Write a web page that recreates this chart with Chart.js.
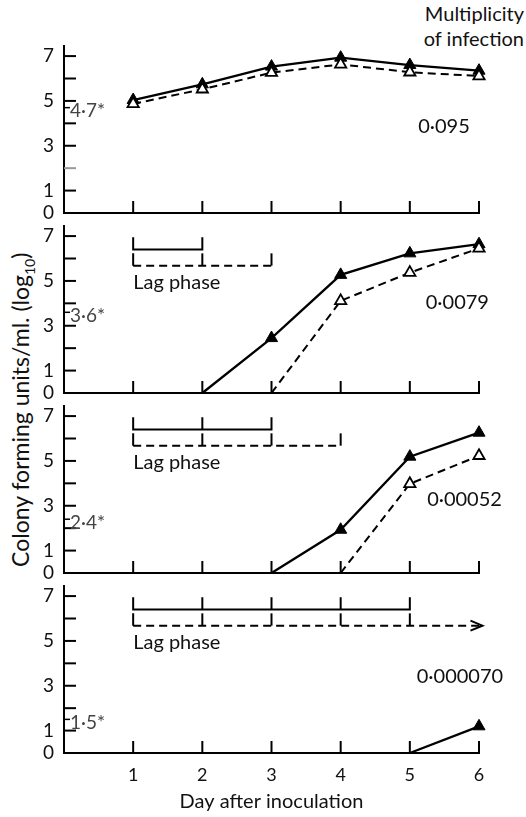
<!DOCTYPE html>
<html>
<head>
<meta charset="utf-8">
<script src="https://cdn.jsdelivr.net/npm/chart.js@4"></script>
<style>
  body { margin: 0; background: #fff; width: 526px; height: 817px; position: relative; overflow: hidden; font-family: Lato, sans-serif; color: #111; }
  canvas { position: absolute; left: 0; }
  #hdr { position: absolute; right: 2px; top: 1px; text-align: right; font-size: 20px; line-height: 25px; }
  #ytitle { position: absolute; width: 380px; left: -168px; top: 394px; text-align: center; font-size: 23px; transform: rotate(-90deg); white-space: nowrap; }
  #ytitle sub { font-size: 14px; }
</style>
</head>
<body>
<div id="hdr">Multiplicity<br>of infection</div>
<div id="ytitle">Colony forming units/ml. (log<sub>10</sub>)</div>
<canvas id="c0"></canvas>
<canvas id="c1"></canvas>
<canvas id="c2"></canvas>
<canvas id="c3"></canvas>
<script>
// data (log10 colony forming units/ml)
const days = [1, 2, 3, 4, 5, 6];
const moiLabels = ['0·095', '0·0079', '0·00052', '0·000070'];
const thresholdValues = [4.7, 3.6, 2.4, 1.5];
const thresholdLabels = ['4·7*', '3·6*', '2·4*', '1·5*'];

// filled triangles, solid line
const filledSeries = [
  [5.04, 5.74, 6.53, 6.93, 6.6, 6.35],
  [null, 0, 2.45, 5.27, 6.23, 6.64],
  [null, null, 0, 1.93, 5.19, 6.26],
  [null, null, null, null, 0, 1.19]
];
// open triangles, dashed line
const openSeries = [
  [4.87, 5.52, 6.26, 6.63, 6.28, 6.11],
  [null, null, 0, 4.11, 5.37, 6.45],
  [null, null, null, 0, 3.98, 5.23],
  [null, null, null, null, null, null]
];

// lag phase brackets (day the bracket ends)
const lagSolidEnd = [null, 2, 3, 5];
const lagDashedEnd = [null, 3, 4, 5];
const lagArrowEnd = [null, null, null, 6.05];

const yTickLabels = [0, 1, 3, 5, 7];
const yTickMarks = [1, 2, 3, 4, 5, 6, 7];

// layout
const areaTop = [46, 226, 406, 586];
const areaBottom = [213, 393, 573, 753];
const xAxisH = [12, 12, 12, 64];
const padTop = 12;
const moiAt = [[5.12, 3.84], [5.23, 4.02], [5.25, 3.26], [5.1, 3.39]];
const solidLevel = 6.4, dashedLevel = 5.68, rise = 0.55;

Chart.defaults.font.family = 'Lato, sans-serif';
Chart.defaults.font.size = 18;
Chart.defaults.color = '#111';

function pts(vals) {
  return days.map((d, i) => ({ x: d, y: vals[i] }));
}

function bracket(end, level, arrowEnd) {
  const p = [{ x: 1, y: level + rise }, { x: 1, y: level }];
  if (arrowEnd) {
    p.push({ x: arrowEnd, y: level });
    for (let d = 2; d <= end; d++) p.push({ x: d, y: null }, { x: d, y: level }, { x: d, y: level + rise });
  } else {
    p.push({ x: end, y: level }, { x: end, y: level + rise });
    for (let d = 2; d < end; d++) p.push({ x: d, y: null }, { x: d, y: level }, { x: d, y: level + rise });
  }
  return p;
}

const decor = {
  id: 'decor',
  afterDraw(chart, args, opts) {
    const i = opts.panel;
    const ctx = chart.ctx, xs = chart.scales.x, ys = chart.scales.y;
    const x0 = xs.getPixelForValue(0), y0 = ys.getPixelForValue(0);
    ctx.save();
    // inward tick marks
    ctx.lineWidth = 2;
    yTickMarks.forEach(v => {
      ctx.strokeStyle = (i === 0 && v === 2) ? '#999' : '#000';
      const y = ys.getPixelForValue(v);
      ctx.beginPath(); ctx.moveTo(x0, y); ctx.lineTo(x0 + 12, y); ctx.stroke();
    });
    ctx.strokeStyle = '#000';
    days.forEach(d => {
      const x = xs.getPixelForValue(d);
      ctx.beginPath(); ctx.moveTo(x, y0); ctx.lineTo(x, y0 - 12); ctx.stroke();
    });
    // threshold mark and label
    const ty = ys.getPixelForValue(thresholdValues[i]);
    ctx.lineWidth = 1.5;
    ctx.beginPath(); ctx.moveTo(x0, ty); ctx.lineTo(x0 + 6, ty); ctx.stroke();
    ctx.fillStyle = '#444';
    ctx.font = '19px Lato, sans-serif';
    ctx.textBaseline = 'middle';
    ctx.textAlign = 'left';
    ctx.fillText(thresholdLabels[i], x0 + 6, ys.getPixelForValue(thresholdValues[i] - 0.15));
    // multiplicity of infection
    ctx.fillStyle = '#111';
    ctx.font = '20px Lato, sans-serif';
    ctx.fillText(moiLabels[i], xs.getPixelForValue(moiAt[i][0]), ys.getPixelForValue(moiAt[i][1]));
    // lag phase
    if (lagSolidEnd[i] !== null) {
      ctx.fillText('Lag phase', xs.getPixelForValue(1), ys.getPixelForValue(4.92));
    }
    if (lagArrowEnd[i] !== null) {
      const ax = xs.getPixelForValue(lagArrowEnd[i]), ay = ys.getPixelForValue(dashedLevel);
      ctx.lineWidth = 2;
      ctx.beginPath();
      ctx.moveTo(ax - 12, ay - 5); ctx.lineTo(ax, ay); ctx.lineTo(ax - 12, ay + 5);
      ctx.stroke();
    }
    ctx.restore();
  }
};

for (let i = 0; i < 4; i++) {
  const cv = document.getElementById('c' + i);
  const h = padTop + (areaBottom[i] - areaTop[i]) + xAxisH[i];
  cv.width = 526; cv.height = h;
  cv.style.top = (areaTop[i] - padTop) + 'px';
  const last = i === 3;

  const datasets = [
    {
      data: pts(openSeries[i]),
      borderColor: '#000', borderWidth: 2, borderDash: [8, 5],
      pointStyle: 'triangle', pointBackgroundColor: '#fff', pointBorderColor: '#000', pointBorderWidth: 1.8,
      pointRadius: c => (c.raw && c.raw.y > 0 ? 6.5 : 0),
      clip: false
    },
    {
      data: pts(filledSeries[i]),
      borderColor: '#000', borderWidth: 2.3,
      pointStyle: 'triangle', pointBackgroundColor: '#000', pointBorderColor: '#000', pointBorderWidth: 1,
      pointRadius: c => (c.raw && c.raw.y > 0 ? 7 : 0),
      clip: false
    }
  ];
  if (lagSolidEnd[i] !== null) {
    datasets.push({
      data: bracket(lagSolidEnd[i], solidLevel, null),
      borderColor: '#000', borderWidth: 2, pointRadius: 0, clip: false
    });
    datasets.push({
      data: bracket(lagDashedEnd[i], dashedLevel, lagArrowEnd[i]),
      borderColor: '#000', borderWidth: 2, pointRadius: 0, clip: false,
      segment: { borderDash: c => (c.p0.parsed.x === c.p1.parsed.x ? [] : [8, 5]) }
    });
  }

  new Chart(cv, {
    type: 'line',
    data: { datasets },
    options: {
      responsive: false,
      animation: false,
      events: [],
      layout: { padding: { top: padTop, right: 47, left: 0, bottom: 0 } },
      plugins: { legend: { display: false }, tooltip: { enabled: false }, decor: { panel: i } },
      scales: {
        x: {
          type: 'linear', min: 0, max: 6,
          grid: { display: false, drawTicks: false },
          border: { display: true, color: '#000', width: 2 },
          ticks: {
            display: last, stepSize: 1, padding: 11, maxRotation: 0, includeBounds: false, autoSkip: false,
            callback: v => (days.includes(v) ? v : '')
          },
          title: { display: last, text: 'Day after inoculation', font: { size: 20 }, padding: { top: 0, bottom: 3 } },
          afterFit: s => { s.height = xAxisH[i]; s.paddingLeft = 0; s.paddingRight = 0; }
        },
        y: {
          min: 0, max: 7.45,
          grid: { display: false, drawTicks: false },
          border: { display: true, color: '#000', width: 2 },
          ticks: {
            stepSize: 1, padding: 10, includeBounds: false, autoSkip: false, font: { size: 19 },
            callback: v => (yTickLabels.includes(v) ? v : '')
          },
          afterFit: s => { s.width = 64; s.paddingTop = 0; s.paddingBottom = 0; }
        }
      }
    },
    plugins: [decor]
  });
}
</script>
</body>
</html>
